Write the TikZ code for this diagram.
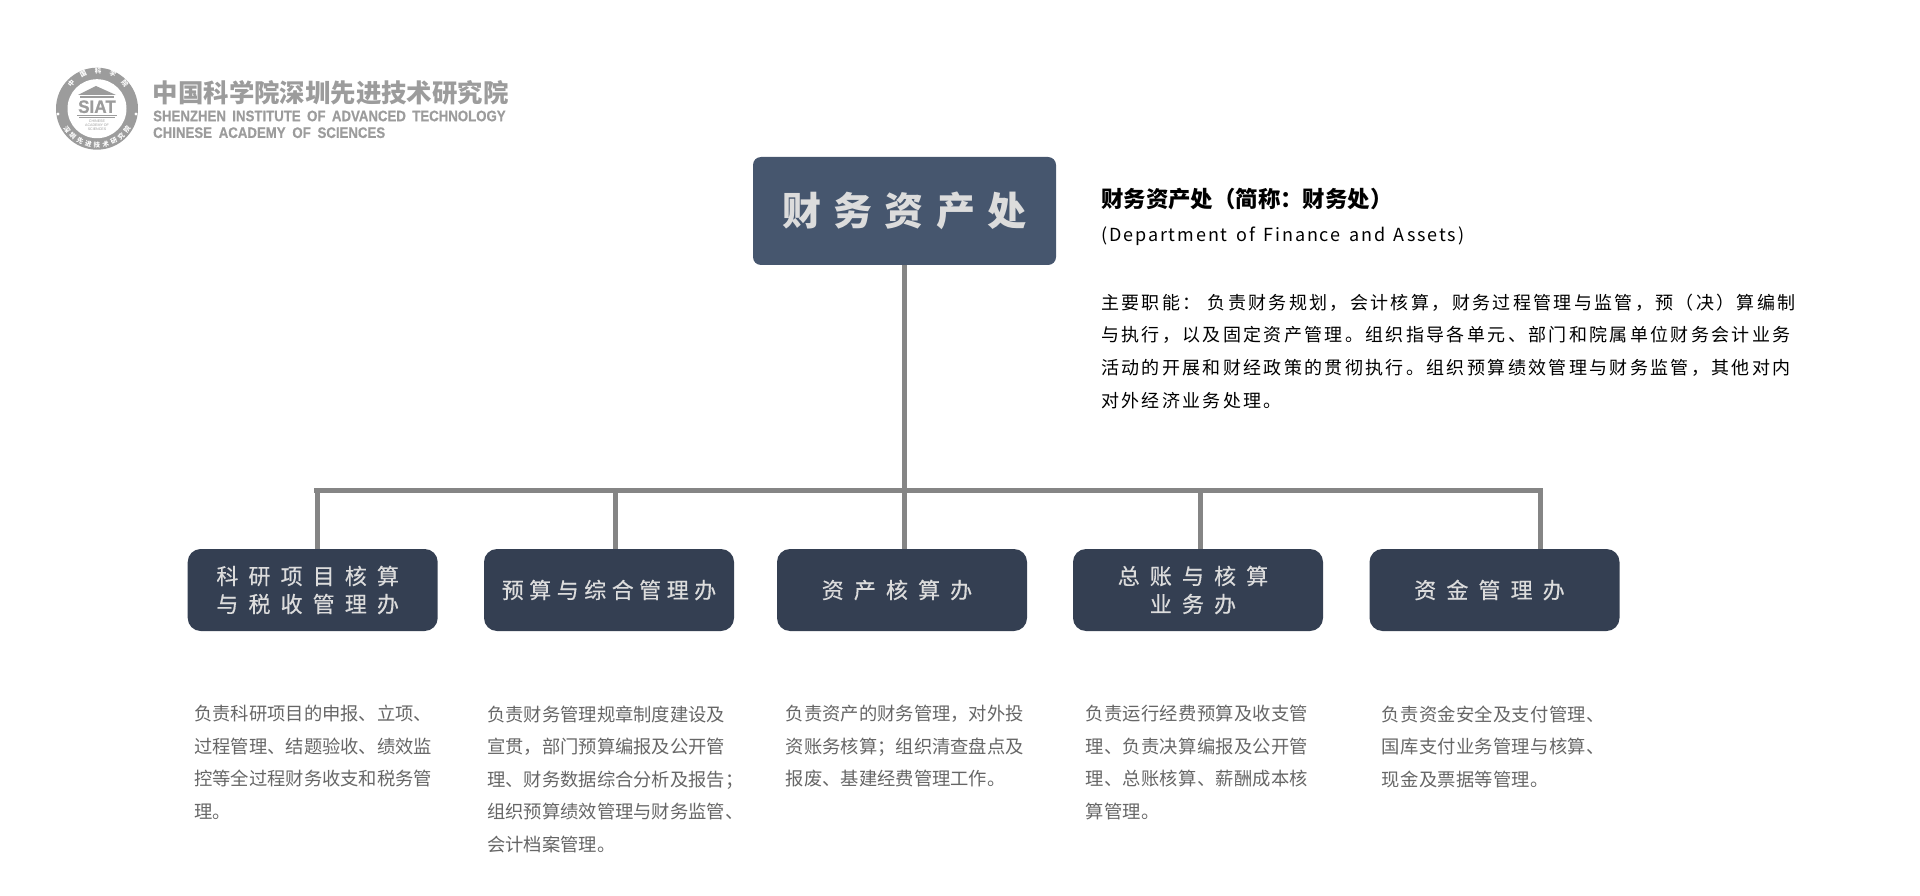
\documentclass[tikz,border=0pt]{standalone}
\usepackage{fontspec}
\usetikzlibrary{decorations.text}
\setmainfont{Noto Sans CJK SC}
\newfontfamily\latinfont{Liberation Sans}
\newfontfamily\latinheavy[FakeBold=0.7]{Liberation Sans Bold}
\newfontfamily\topfont[LetterSpace=31]{Noto Sans CJK SC}
\newfontfamily\wideboxfont[LetterSpace=46, FakeBold=0.4]{Noto Sans CJK SC}
\newfontfamily\tightboxfont[LetterSpace=25, FakeBold=0.4]{Noto Sans CJK SC}
\newfontfamily\dutyfont[LetterSpace=13]{Noto Sans CJK SC}
\newfontfamily\enfont[LetterSpace=10.5, WordSpace=1.45]{Noto Sans CJK SC}
\newfontfamily\widenotefont[LetterSpace=1.5]{Noto Sans CJK SC}
\newcommand{\sealfont}{\fontsize{6.5}{6.5}\selectfont\bfseries}
\newcommand{\tailgap}{\hspace*{10pt}}
\definecolor{topblue}{HTML}{46566E}
\definecolor{subblue}{HTML}{343F52}
\definecolor{barGray}{HTML}{858585}
\definecolor{logoGray}{HTML}{9C9C9C}
\definecolor{boxText}{HTML}{DCDCDC}
\definecolor{noteGray}{HTML}{666666}
\tikzset{
  topbox/.style={fill=topblue, rounded corners=8pt, minimum width=303pt, minimum height=108pt,
    inner sep=0pt, text=boxText, font=\topfont\bfseries\fontsize{39}{39}\selectfont},
  subbox/.style={fill=subblue, rounded corners=13pt, minimum width=250pt, minimum height=82pt,
    inner sep=0pt, text=boxText, align=center, font=\wideboxfont\fontsize{22}{28}\selectfont},
  barline/.style={color=barGray, line width=5pt},
  note/.style={inner sep=0pt, anchor=north west, align=left, text=noteGray,
    font=\fontsize{18.3}{32.5}\selectfont},
  widenote/.style={note, font=\widenotefont\fontsize{18.3}{32.5}\selectfont},
  duty/.style={inner sep=0pt, anchor=north west, align=left, text=black,
    font=\dutyfont\fontsize{18}{32.8}\selectfont}
}
\begin{document}
\begin{tikzpicture}[x=1pt, y=-1pt]
    \useasboundingbox (0, 0) rectangle (1920, 896);

    % draw seal of the institute
    \coordinate (seal) at (97, 108.7);
    \fill[color=logoGray] (seal) circle (41);
    \fill[color=white] (seal) circle (29.5);
    \fill[color=white] (58, 114) circle (1.6);
    \fill[color=white] (136, 114) circle (1.6);
    \path[decorate, decoration={text along path, text align={fit to path},
        text={|\color{white}\sealfont|中国科学院}}]
      (71.2, 87.8) arc [radius = 32, start angle = -147, end angle = -33];
    \path[decorate, decoration={text along path, text align={fit to path},
        text={|\color{white}\sealfont|深圳先进技术研究院}}]
      (63.2, 128.2) arc [radius = 39, start angle = 150, end angle = 30];
    \fill[color=logoGray] (96, 86) -- (116, 95) -- (78, 95) -- cycle;
    \fill[color=logoGray] (80, 96.5) rectangle (114, 98);
    \node[inner sep=0pt, text=logoGray, font=\latinheavy\fontsize{18}{18}\selectfont] (siat)
      at (97, 106.7) {\scalebox{.95}[1]{SIAT}};
    \draw[color=logoGray, line width=1pt] (77, 115.5) -- (117, 115.5);
    \draw[color=logoGray, line width=1pt] (79, 118) -- (115, 118);
    \node[inner sep=0pt, text=logoGray, align=center, font=\latinfont\fontsize{3.6}{3.8}\selectfont] (siatsmall)
      at (97, 125.5) {CHINESE\\ACADEMY OF\\SCIENCES};

    % draw name of the institute
    \node[inner sep=0pt, anchor=west, text=logoGray] (cnname) at (152.7, 92.7)
      {\bfseries\fontsize{25.4}{25.4}\selectfont 中国科学院深圳先进技术研究院};
    \node[inner sep=0pt, anchor=west, text=logoGray, font=\latinheavy\fontsize{15.2}{15.2}\selectfont] (enname)
      at (153, 116) {\scalebox{.87}[1]{SHENZHEN\hspace{7.4pt}INSTITUTE\hspace{7.4pt}OF\hspace{7.4pt}ADVANCED\hspace{7.4pt}TECHNOLOGY}};
    \node[inner sep=0pt, anchor=west, text=logoGray, font=\latinheavy\fontsize{15.2}{15.2}\selectfont] (enacademy)
      at (153, 132.7) {\scalebox{.87}[1]{CHINESE\hspace{7.8pt}ACADEMY\hspace{7.8pt}OF\hspace{7.8pt}SCIENCES}};

    % draw department and offices
    \node[topbox] (dept) at (904.5, 211) {财务资产处};
    \node[subbox] (kyhs) at (312.7, 590) {科研项目核算\tailgap\\与税收管理办\tailgap};
    \node[subbox, font=\tightboxfont\fontsize{22}{28}\selectfont] (yszh) at (609, 590) {预算与综合管理办};
    \node[subbox] (zchs) at (902, 590) {资产核算办\tailgap};
    \node[subbox] (zzhs) at (1198, 590) {总账与核算\tailgap\\业务办\tailgap};
    \node[subbox] (zjgl) at (1494.5, 590) {资金管理办\tailgap};

    % draw connectors
    \coordinate (jleft) at (314, 490.5);
    \coordinate (jright) at (1543, 490.5);
    \coordinate (jkyhs) at (317.7, 490.5);
    \coordinate (jyszh) at (615.4, 490.5);
    \coordinate (jzchs) at (904.5, 490.5);
    \coordinate (jzzhs) at (1200, 490.5);
    \coordinate (jzjgl) at (1540.7, 490.5);
    \draw[barline] (jleft) -- (jright);
    \draw[barline] (dept.south) -- (jzchs);
    \draw[barline] (jkyhs) -- (jkyhs |- kyhs.north);
    \draw[barline] (jyszh) -- (jyszh |- yszh.north);
    \draw[barline] (jzchs) -- (jzchs |- zchs.north);
    \draw[barline] (jzzhs) -- (jzzhs |- zzhs.north);
    \draw[barline] (jzjgl) -- (jzjgl |- zjgl.north);

    % draw department description
    \node[inner sep=0pt, anchor=west, text=black] (title) at (1101, 199)
      {\bfseries\fontsize{22.4}{22.4}\selectfont 财务资产处（简称：财务处）};
    \node[inner sep=0pt, anchor=west, text=black] (entitle) at (1101, 236)
      {\enfont\fontsize{18}{18}\selectfont (Department of Finance and Assets)};
    \node[duty] (dutytext) at (1101, 293.5)
      {主要职能：\hspace{1pt} 负责财务规划，会计核算，财务过程管理与监管，预（决）算编制\\
       与执行，以及固定资产管理。组织指导各单元、部门和院属单位财务会计业务\\
       活动的开展和财经政策的贯彻执行。组织预算绩效管理与财务监管，其他对内\\
       对外经济业务处理。};

    % draw office descriptions
    \node[note] (kyhsnote) at (194, 705.3)
      {负责科研项目的申报、立项、\\过程管理、结题验收、绩效监\\控等全过程财务收支和税务管\\理。};
    \node[note] (yszhnote) at (487, 705.3)
      {负责财务管理规章制度建设及\\宣贯，部门预算编报及公开管\\理、财务数据综合分析及报告；\\组织预算绩效管理与财务监管、\\会计档案管理。};
    \node[note] (zchsnote) at (785.7, 705.3)
      {负责资产的财务管理，对外投\\资账务核算；组织清查盘点及\\报废、基建经费管理工作。};
    \node[widenote] (zzhsnote) at (1085.4, 705.3)
      {负责运行经费预算及收支管\\理、负责决算编报及公开管\\理、总账核算、薪酬成本核\\算管理。};
    \node[widenote] (zjglnote) at (1381.7, 705.3)
      {负责资金安全及支付管理、\\国库支付业务管理与核算、\\现金及票据等管理。};
\end{tikzpicture}
\end{document}
